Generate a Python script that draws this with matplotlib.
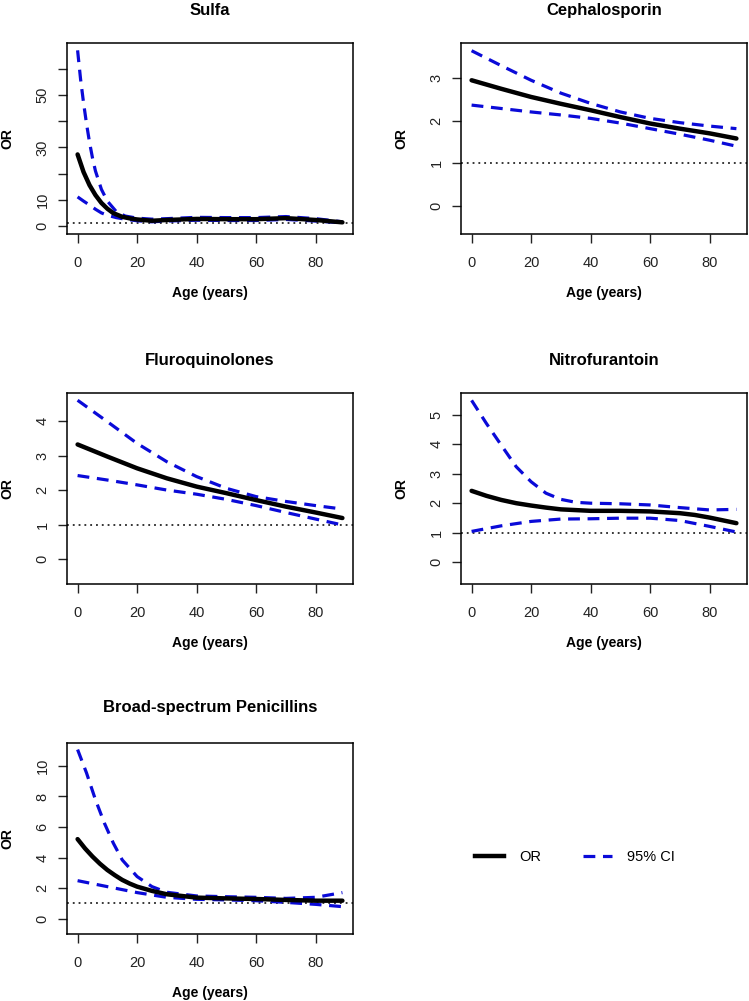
"""Age-varying odds ratios (OR with 95% CI) for five antibiotic classes."""
import matplotlib
matplotlib.use("Agg")
import matplotlib.pyplot as plt
from matplotlib.lines import Line2D

plt.rcParams["font.family"] = ["Liberation Sans", "DejaVu Sans"]

# Sulfa
sulfa_age = [0, 2, 4, 6, 8, 10, 12, 15, 18, 20, 25, 30, 40, 50, 60, 70, 80, 85, 89]
sulfa_or = [27.3, 20.6, 15.6, 11.8, 8.8, 6.6, 4.9, 3.5, 2.8, 2.5, 2.0, 2.3, 2.7, 2.6, 2.6, 3.0, 2.3, 1.8, 1.4]
sulfa_hi_age = [0, 1, 2, 3, 4, 5, 6, 8, 10, 13, 16, 20, 25, 30, 40, 50, 60, 70, 80, 89]
sulfa_hi = [67, 56, 47, 39, 32, 26, 21, 14, 9.5, 5.5, 3.8, 3.0, 2.6, 2.8, 3.3, 3.2, 3.2, 3.6, 2.8, 1.6]
sulfa_lo_age = [0, 2, 4, 6, 8, 10, 13, 16, 20, 25, 30, 40, 50, 60, 70, 80, 89]
sulfa_lo = [11.1, 9.5, 8.0, 6.4, 5.0, 4.1, 3.2, 2.6, 2.0, 1.6, 1.9, 2.2, 2.1, 2.1, 2.5, 1.9, 1.2]

# Cephalosporin
ceph_age = [0, 10, 20, 30, 40, 50, 60, 70, 80, 89]
ceph_or = [2.94, 2.74, 2.55, 2.39, 2.24, 2.08, 1.93, 1.81, 1.70, 1.58]
ceph_hi = [3.63, 3.28, 2.94, 2.64, 2.40, 2.20, 2.05, 1.95, 1.87, 1.81]
ceph_lo = [2.36, 2.28, 2.20, 2.13, 2.05, 1.94, 1.81, 1.68, 1.54, 1.40]

# Fluroquinolones
fq_age = [0, 10, 20, 30, 40, 50, 60, 70, 80, 89]
fq_or = [3.32, 2.97, 2.63, 2.34, 2.10, 1.91, 1.71, 1.52, 1.35, 1.19]
fq_hi = [4.60, 3.98, 3.35, 2.82, 2.39, 2.05, 1.81, 1.67, 1.55, 1.45]
fq_lo = [2.42, 2.29, 2.15, 2.00, 1.88, 1.73, 1.55, 1.35, 1.16, 0.99]

# Nitrofurantoin
nitro_age = [0, 5, 10, 15, 20, 25, 30, 40, 50, 60, 70, 75, 80, 89]
nitro_or = [2.42, 2.25, 2.11, 2.00, 1.92, 1.85, 1.79, 1.74, 1.74, 1.72, 1.66, 1.60, 1.51, 1.32]
nitro_hi_age = [0, 5, 10, 15, 20, 25, 30, 35, 40, 50, 60, 70, 80, 89]
nitro_hi = [5.50, 4.71, 3.97, 3.24, 2.73, 2.34, 2.13, 2.03, 2.00, 1.98, 1.94, 1.85, 1.77, 1.79]
nitro_lo_age = [0, 10, 20, 30, 40, 50, 60, 70, 80, 89]
nitro_lo = [1.04, 1.23, 1.38, 1.46, 1.47, 1.49, 1.49, 1.41, 1.21, 1.02]

# Broad-spectrum Penicillins
pen_age = [0, 2.5, 5, 7.5, 10, 12.5, 15, 17.5, 20, 25, 30, 40, 50, 60, 70, 80, 89]
pen_or = [5.21, 4.60, 4.07, 3.60, 3.19, 2.85, 2.54, 2.30, 2.10, 1.82, 1.60, 1.38, 1.33, 1.29, 1.23, 1.18, 1.18]
pen_hi_age = [0, 3, 6, 9, 12, 15, 20, 25, 30, 40, 50, 60, 70, 80, 89]
pen_hi = [11.07, 9.54, 7.79, 6.26, 4.95, 3.85, 2.76, 2.10, 1.73, 1.49, 1.44, 1.40, 1.33, 1.40, 1.71]
pen_lo_age = [0, 10, 20, 30, 40, 50, 60, 70, 80, 89]
pen_lo = [2.49, 2.10, 1.71, 1.40, 1.27, 1.23, 1.18, 1.07, 0.94, 0.79]

x_ticks = [0, 20, 40, 60, 80]

BLUE = "#0a0ad8"
W, H = 749, 1001
DASH = (3.7, 2.4)


def panel(rect, title, ylim, yticks, ylabels, age, orv, hi_age, hi, lo_age, lo, title_pad=20):
    l, t, r, b = rect
    ax = fig.add_axes([l / W, 1 - b / H, (r - l) / W, (b - t) / H])
    ax.axhline(1, color="black", lw=1.1, linestyle=(0, (1.2, 2.6)))
    ax.plot(hi_age, hi, color=BLUE, lw=2.3, dashes=DASH)
    ax.plot(lo_age, lo, color=BLUE, lw=2.3, dashes=DASH)
    ax.plot(age, orv, color="black", lw=3.2, solid_capstyle="round", solid_joinstyle="round")
    ax.set_xlim(-3.56, 92.56)
    ax.set_ylim(*ylim)
    ax.set_xticks(x_ticks)
    ax.set_yticks(yticks)
    ax.set_yticklabels(ylabels, rotation=90, va="center")
    ax.tick_params(length=6.5, width=1, labelsize=10.5, color="#222222", labelcolor="#222222")
    ax.tick_params(axis="x", pad=9.5)
    ax.tick_params(axis="y", pad=6)
    for s in ax.spines.values():
        s.set_linewidth(1.1)
    ax.set_title(title, fontsize=12, fontweight="bold", pad=title_pad)
    ax.set_xlabel("Age (years)", fontsize=10, fontweight="bold", labelpad=11)
    ax.set_ylabel("OR", fontsize=10, fontweight="bold", labelpad=15)
    return ax


fig = plt.figure(figsize=(W / 100, H / 100), dpi=100)

panel((67, 43, 353, 234), "Sulfa", (-3.05, 69.8), [0, 10, 20, 30, 40, 50, 60],
      ["0", "10", "", "30", "", "50", ""],
      sulfa_age, sulfa_or, sulfa_hi_age, sulfa_hi, sulfa_lo_age, sulfa_lo)
panel((461, 43, 747, 234), "Cephalosporin", (-0.65, 3.81), [0, 1, 2, 3],
      ["0", "1", "2", "3"],
      ceph_age, ceph_or, ceph_age, ceph_hi, ceph_age, ceph_lo)
panel((67, 393, 353, 584), "Fluroquinolones", (-0.72, 4.81), [0, 1, 2, 3, 4],
      ["0", "1", "2", "3", "4"],
      fq_age, fq_or, fq_age, fq_hi, fq_age, fq_lo)
panel((461, 393, 747, 584), "Nitrofurantoin", (-0.75, 5.75), [0, 1, 2, 3, 4, 5],
      ["0", "1", "2", "3", "4", "5"],
      nitro_age, nitro_or, nitro_hi_age, nitro_hi, nitro_lo_age, nitro_lo)
panel((67, 743, 353, 934), "Broad-spectrum Penicillins", (-1.0, 11.5), [0, 2, 4, 6, 8, 10],
      ["0", "2", "4", "6", "8", "10"],
      pen_age, pen_or, pen_hi_age, pen_hi, pen_lo_age, pen_lo, title_pad=22)

handles = [Line2D([], [], color="black", lw=3.2),
           Line2D([], [], color=BLUE, lw=2.3, dashes=DASH)]
fig.legend(handles, ["OR", "95% CI"], loc="center", bbox_to_anchor=(575 / W, 1 - 857 / H),
           ncol=2, frameon=False, fontsize=10.5, handlelength=2.0, handletextpad=1.0,
           columnspacing=2.9)

fig.savefig("out.png", dpi=100)
